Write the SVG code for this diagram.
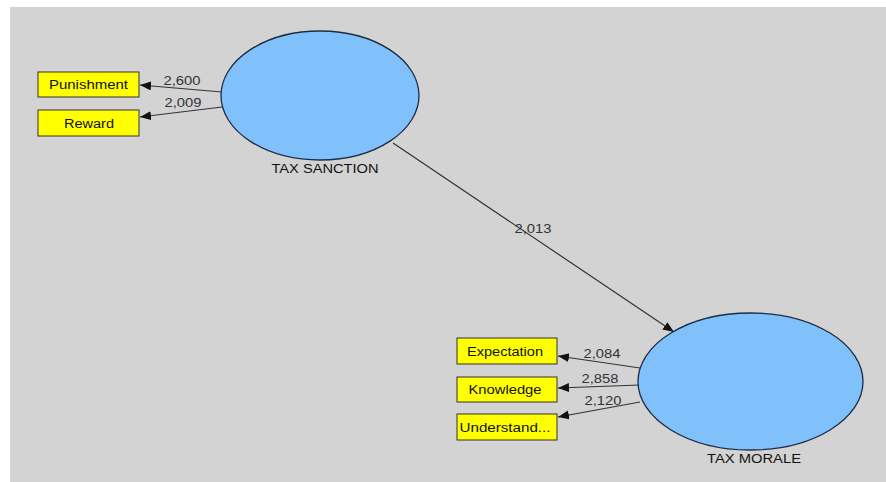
<svg xmlns="http://www.w3.org/2000/svg" width="886" height="482" viewBox="0 0 886 482">
<style>
.lv{fill:#80c0fb;stroke:#1c2c44;stroke-width:1.3}
.mv{fill:#ffff00;stroke:#333;stroke-width:1}
.t{font-family:"Liberation Sans",Arial,sans-serif;font-size:12.5px;fill:#111;text-anchor:middle}
.n{font-family:"Liberation Sans",Arial,sans-serif;font-size:12.5px;fill:#333;text-anchor:middle}
.e{stroke:#333;stroke-width:1.2;fill:none;marker-end:url(#ah)}
</style>
<defs>
<marker id="ah" markerUnits="userSpaceOnUse" markerWidth="12" markerHeight="10" refX="11" refY="4.5" orient="auto">
<path d="M0,0 L11,4.5 L0,9 Z" fill="#111"/>
</marker>
</defs>
<rect x="0" y="0" width="886" height="482" fill="#ffffff"/>
<rect x="10" y="7" width="876" height="475" fill="#d3d3d3"/>
<g id="connectors">
<line class="e" x1="222" y1="92" x2="140" y2="85"/>
<line class="e" x1="222" y1="107" x2="140" y2="117"/>
<line class="e" x1="393" y1="143" x2="674" y2="332"/>
<line class="e" x1="640" y1="368" x2="558" y2="356"/>
<line class="e" x1="640" y1="385" x2="558" y2="388"/>
<line class="e" x1="640" y1="402" x2="558" y2="417"/>
<text class="n" x="182" y="85" textLength="37" lengthAdjust="spacingAndGlyphs">2,600</text>
<text class="n" x="183" y="107" textLength="37" lengthAdjust="spacingAndGlyphs">2,009</text>
<text class="n" x="533" y="233" textLength="37" lengthAdjust="spacingAndGlyphs">2,013</text>
<text class="n" x="602" y="358" textLength="37" lengthAdjust="spacingAndGlyphs">2,084</text>
<text class="n" x="600" y="383" textLength="37" lengthAdjust="spacingAndGlyphs">2,858</text>
<text class="n" x="603" y="405" textLength="37" lengthAdjust="spacingAndGlyphs">2,120</text>
</g>
<g id="tax-sanction">
<ellipse class="lv" cx="320" cy="95.5" rx="99" ry="64.5"/>
<text class="t" x="325" y="173" textLength="107" lengthAdjust="spacingAndGlyphs">TAX SANCTION</text>
</g>
<g id="tax-morale">
<ellipse class="lv" cx="750.5" cy="381.5" rx="112.5" ry="68.5"/>
<text class="t" x="754" y="463" textLength="94" lengthAdjust="spacingAndGlyphs">TAX MORALE</text>
</g>
<g id="punishment">
<rect class="mv" x="38" y="72" width="101" height="25"/>
<text class="t" x="88.5" y="89" textLength="79" lengthAdjust="spacingAndGlyphs">Punishment</text>
</g>
<g id="reward">
<rect class="mv" x="38" y="110" width="101" height="26"/>
<text class="t" x="89" y="128" textLength="50" lengthAdjust="spacingAndGlyphs">Reward</text>
</g>
<g id="expectation">
<rect class="mv" x="457" y="338" width="100" height="26"/>
<text class="t" x="505" y="356" textLength="76" lengthAdjust="spacingAndGlyphs">Expectation</text>
</g>
<g id="knowledge">
<rect class="mv" x="457" y="377" width="100" height="25"/>
<text class="t" x="505" y="394" textLength="73" lengthAdjust="spacingAndGlyphs">Knowledge</text>
</g>
<g id="understand">
<rect class="mv" x="457" y="414" width="100" height="26"/>
<text class="t" x="505" y="432" textLength="91" lengthAdjust="spacingAndGlyphs">Understand...</text>
</g>
</svg>
